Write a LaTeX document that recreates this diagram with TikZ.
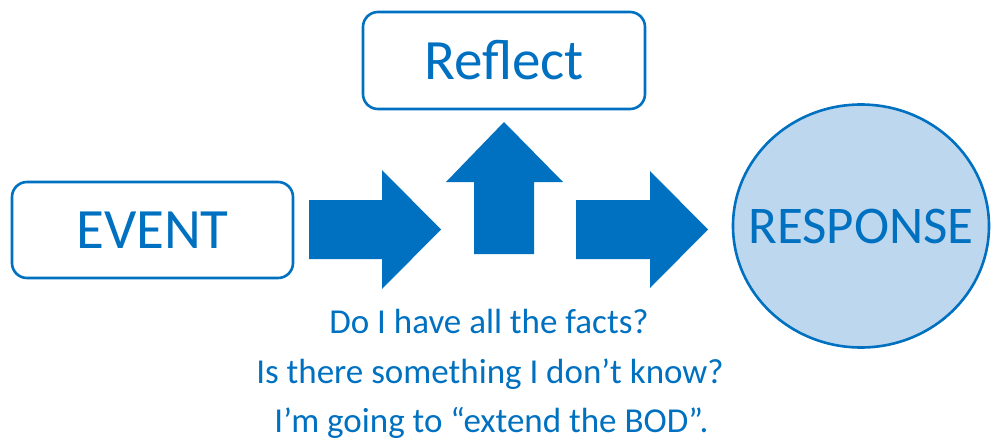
\documentclass[tikz,border=0pt]{standalone}
\usepackage{fontspec}
\setmainfont{Carlito}
\usetikzlibrary{shapes.geometric}
\definecolor{mainblue}{HTML}{0070C0}
\definecolor{lightfill}{HTML}{BDD7EE}
\begin{document}
\begin{tikzpicture}[x=1pt,y=-1pt,
  box/.style={draw=mainblue,line width=2.6pt,rounded corners=15pt,fill=white,text=mainblue,inner sep=0pt},
  blockarrow/.style={fill=mainblue,draw=none},
  qtext/.style={text=mainblue,anchor=base,inner sep=0pt,font=\fontsize{35}{40}\selectfont}]
\useasboundingbox (0,0) rectangle (991,444);
\node[box,minimum width=281pt,minimum height=96pt,font=\fontsize{57}{60}\selectfont] (event) at (152.5,230) {EVENT};
\node[box,minimum width=282pt,minimum height=97pt,font=\fontsize{57}{60}\selectfont] (reflect) at (504,60.5) {Reflect};
\node[ellipse,draw=mainblue,line width=2.6pt,fill=lightfill,text=mainblue,minimum width=256pt,minimum height=243pt,inner sep=0pt,font=\fontsize{53}{56}\selectfont] (response) at (861,226) {\makebox[0pt]{RESPONSE}};
% block arrows
\fill[blockarrow] (309,200) -- (382,200) -- (382,170) -- (441,229.5) -- (382,289) -- (382,259) -- (309,259) -- cycle;
\fill[blockarrow] (474,254) -- (474,182) -- (446,182) -- (504,122) -- (563,182) -- (534,182) -- (534,254) -- cycle;
\fill[blockarrow] (576,200) -- (650,200) -- (650,171) -- (708,229.5) -- (650,288) -- (650,259) -- (576,259) -- cycle;
% questions
\node[qtext] (q1) at (489,333) {Do I have all the facts?};
\node[qtext] (q2) at (490,383) {Is there something I don’t know?};
\node[qtext] (q3) at (491.5,432) {I’m going to “extend the BOD”.};
\end{tikzpicture}
\end{document}
